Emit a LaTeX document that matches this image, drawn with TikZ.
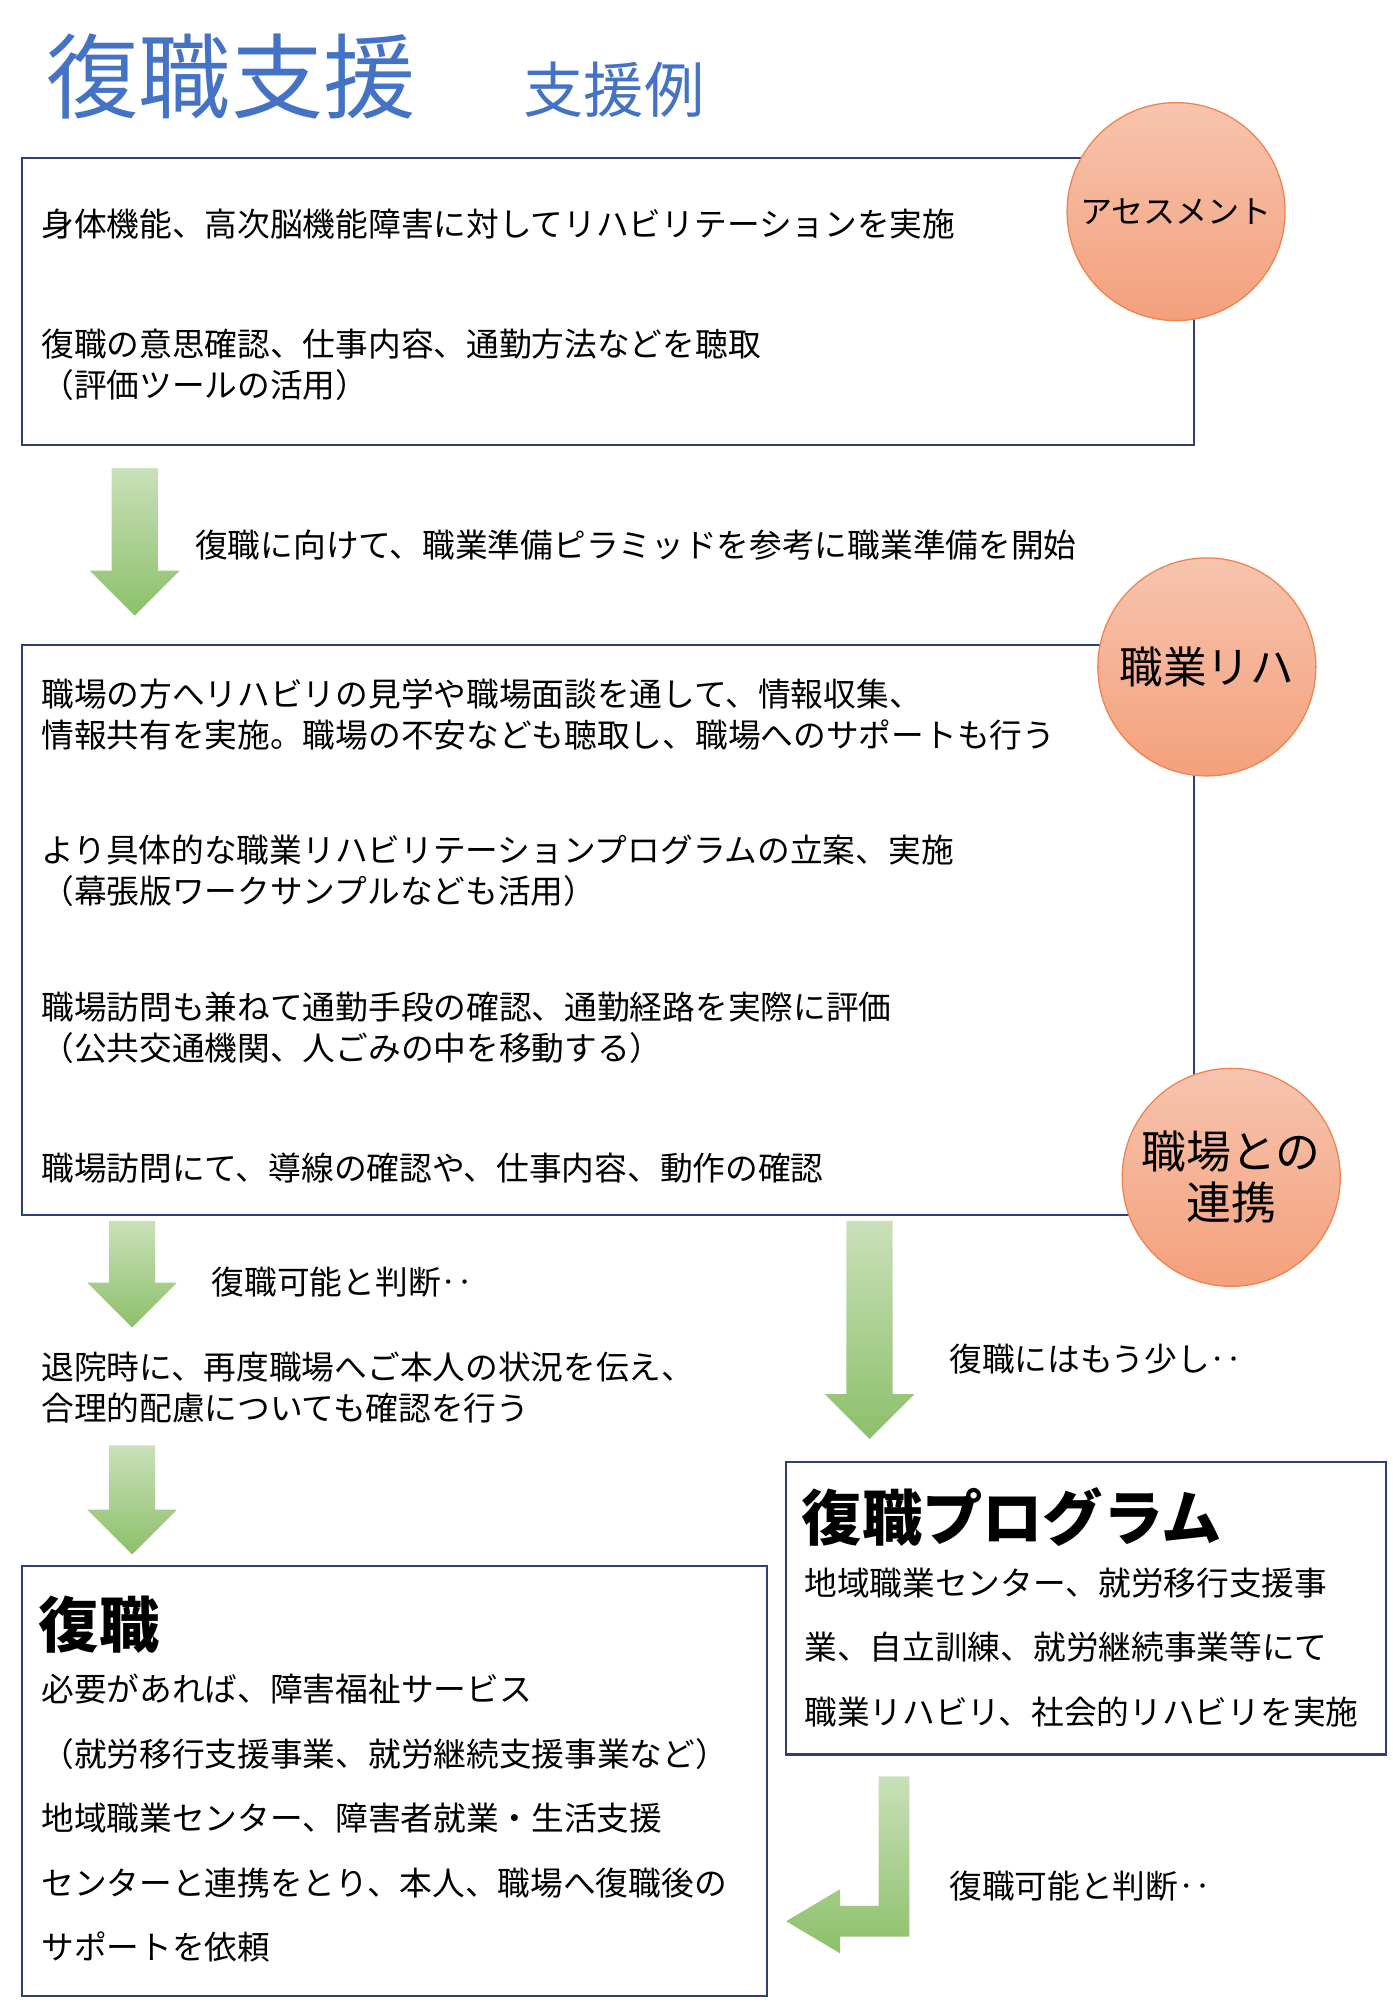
\documentclass[tikz,border=0pt]{standalone}
\usepackage{fontspec}
\setmainfont{Noto Sans CJK JP}
\usetikzlibrary{positioning}
\definecolor{boxline}{HTML}{2F3F6F}
\definecolor{titleblue}{HTML}{4472C4}
\definecolor{arrtop}{HTML}{C9E0B9}
\definecolor{arrbot}{HTML}{8CC06A}
\definecolor{circtop}{HTML}{F7C4AE}
\definecolor{circbot}{HTML}{F4A07C}
\definecolor{circline}{HTML}{EE8350}
\begin{document}
\begin{tikzpicture}[x=1pt,y=-1pt,
    frame/.style={draw=boxline,line width=1.6pt,fill=white},
    txt/.style={anchor=north west,inner sep=0pt,align=left,font=\fontsize{25.5}{32}\selectfont},
    wide/.style={txt,font=\fontsize{25.5}{50.3}\selectfont},
    note/.style={anchor=west,inner sep=0pt,font=\fontsize{25.5}{30}\selectfont},
    head/.style={anchor=west,inner sep=0pt,font=\fontsize{47}{50}\selectfont\bfseries},
    badge/.style={circle,minimum size=170pt,inner sep=0pt,draw=circline,line width=1pt,
      top color=circtop,bottom color=circbot,align=center},
    garrow/.style={top color=arrtop,bottom color=arrbot,draw=none}
]
    \useasboundingbox (0,0) rectangle (1086,1568);

    % Title
    \node[anchor=west,inner sep=0pt,text=titleblue,font=\fontsize{72}{72}\selectfont] (title) at (36,60) {復職支援};
    \node[anchor=west,inner sep=0pt,text=titleblue,font=\fontsize{47}{47}\selectfont] (subtitle) at (408,70) {支援例};

    % Assessment box
    \draw[frame] (17,123) rectangle (931,347);
    \node[badge,font=\fontsize{25}{28}\selectfont] (assess) at (917,165) {アセスメント};
    \node[note] (a1) at (32,175) {身体機能、高次脳機能障害に対してリハビリテーションを実施};
    \node[txt] (a2) at (32,256) {復職の意思確認、仕事内容、通勤方法などを聴取\\（評価ツールの活用）};

    % Arrow 1
    \shade[garrow] (87,365) -- (123,365) -- (123,445) -- (140,445) -- (105,480) -- (70,445) -- (87,445) -- cycle;
    \node[note] (n1) at (152,425) {復職に向けて、職業準備ピラミッドを参考に職業準備を開始};

    % Vocational rehab box
    \draw[frame] (17,503) rectangle (931,947);
    \node[badge,font=\fontsize{34}{36}\selectfont] (voc) at (941,520) {職業リハ};
    \node[badge,font=\fontsize{35}{40}\selectfont] (coop) at (960,918) {職場との\\連携};
    \node[txt] (v1) at (32,529) {職場の方へリハビリの見学や職場面談を通して、情報収集、\\情報共有を実施。職場の不安なども聴取し、職場へのサポートも行う};
    \node[txt] (v2) at (32,651) {より具体的な職業リハビリテーションプログラムの立案、実施\\（幕張版ワークサンプルなども活用）};
    \node[txt] (v3) at (32,773) {職場訪問も兼ねて通勤手段の確認、通勤経路を実際に評価\\（公共交通機関、人ごみの中を移動する）};
    \node[note] (v4) at (32,911) {職場訪問にて、導線の確認や、仕事内容、動作の確認};

    % Arrow 2 / 3
    \shade[garrow] (85,952) -- (121,952) -- (121,1000) -- (138,1000) -- (103,1035) -- (68,1000) -- (85,1000) -- cycle;
    \node[note] (n2) at (165,1000) {復職可能と判断‥};
    \shade[garrow] (660,952) -- (696,952) -- (696,1087) -- (713,1087) -- (678,1122) -- (643,1087) -- (660,1087) -- cycle;
    \node[note] (n3) at (740,1060) {復職にはもう少し‥};
    \node[txt] (n4) at (32,1054) {退院時に、再度職場へご本人の状況を伝え、\\合理的配慮についても確認を行う};

    % Arrow 4
    \shade[garrow] (85,1127) -- (121,1127) -- (121,1177) -- (138,1177) -- (103,1212) -- (68,1177) -- (85,1177) -- cycle;

    % Return to work box
    \draw[frame] (17,1221) rectangle (598,1556);
    \node[head] (rtw) at (30,1267) {復職};
    \node[wide] (r1) at (32,1305) {必要があれば、障害福祉サービス\\（就労移行支援事業、就労継続支援事業など）\\地域職業センター、障害者就業・生活支援\\センターと連携をとり、本人、職場へ復職後の\\サポートを依頼};

    % Program box
    \draw[frame] (613,1140) rectangle (1081,1368);
    \node[head] (prog) at (625,1183) {復職プログラム};
    \node[wide] (p1) at (627,1222) {地域職業センター、就労移行支援事\\業、自立訓練、就労継続事業等にて\\職業リハビリ、社会的リハビリを実施};

    % Bent arrow
    \shade[garrow] (685,1385) -- (709,1385) -- (709,1510) -- (655,1510) -- (655,1523) -- (613,1498) -- (655,1473) -- (655,1486) -- (685,1486) -- cycle;
    \node[note] (n5) at (740,1471) {復職可能と判断‥};
\end{tikzpicture}
\end{document}
